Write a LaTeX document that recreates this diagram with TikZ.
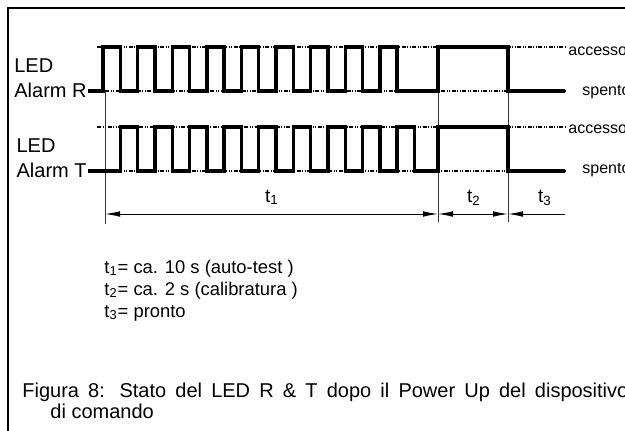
\documentclass[tikz,border=0pt]{standalone}
\usepackage{fontspec}
\setmainfont{Liberation Sans}
\usetikzlibrary{arrows.meta,positioning}

\begin{document}
\begin{tikzpicture}[x=0.5pt,y=-0.5pt,
  lbl/.style={inner sep=0pt,align=left,font=\fontsize{10}{12.5}\selectfont},
  lvl/.style={inner sep=0pt,anchor=base west,font=\fontsize{8}{9.5}\selectfont},
  txt/.style={inner sep=0pt,anchor=base west,font=\fontsize{9.2}{10.5}\selectfont},
  frame/.style={line width=1.25pt},
  sig/.style={line width=1.7pt,line join=miter},
  lvlline/.style={line width=0.55pt,dash pattern=on 2pt off 0.75pt on 0.5pt off 0.75pt on 0.5pt off 0.75pt},
  guide/.style={line width=0.5pt,black!80},
  dim/.style={line width=0.5pt},
  dimb/.style={dim,{Latex[length=7.5pt,width=2.8pt]}-{Latex[length=7.5pt,width=2.8pt]}},
  diml/.style={dim,{Latex[length=7.5pt,width=2.8pt]}-}]

\useasboundingbox (0,0) rectangle (625,430);
\clip (0,0) rectangle (625,430);
\fill[white] (0,0) rectangle (625,430);

% frame
\draw[frame] (8,440) -- (8,8) -- (640,8);

% state levels
\draw[lvlline] (97,47) -- (565,47);
\draw[lvlline] (105,91) -- (565,91);
\draw[lvlline] (97,127) -- (565,127);
\draw[lvlline] (97,171) -- (565,171);

% time marks
\coordinate (d0) at (105,214);
\coordinate (d1) at (438,214);
\coordinate (d2) at (508,214);
\coordinate (d3) at (565,214);
\draw[guide] (105,91) -- (105,224);
\draw[guide] (438,91) -- (438,222);
\draw[guide] (508,91) -- (508,222);

% LED R
\draw[sig] (88,91) foreach \k in {0,...,8} {-- ({103+34.6*\k},91) |- ++(17.3,-44) -- ++(0,44)}
  -- (438,91) |- (508,47) -- (508,91) -- (565,91);
% LED T
\draw[sig] (88,171) foreach \k in {0,...,8} {-- ({120.3+34.6*\k},171) |- ++(17.3,-44) -- ++(0,44)}
  -- (438,171) |- (508,127) -- (508,171) -- (565,171);

% labels
\node[lbl,anchor=south east] (ledR) at (87,98.5) {LED\\Alarm R};
\node[lbl,anchor=south east] (ledT) at (87,178.5) {LED\\Alarm T};
\node[lvl] (accR) at (568,55) {accesso};
\node[lvl] (spR) at (582,95) {spento};
\node[lvl] (accT) at (568,133) {accesso};
\node[lvl] (spT) at (582,173) {spento};

% durations
\draw[dimb] (d0) -- (d1);
\draw[dimb] (d1) -- (d2);
\draw[diml] (d2) -- (d3);
\node[txt,anchor=base,font=\fontsize{9.5}{11}\selectfont] (t1) at (272,202) {t\textsubscript{1}};
\node[txt,anchor=base,font=\fontsize{9.5}{11}\selectfont] (t2) at (474,202) {t\textsubscript{2}};
\node[txt,anchor=base,font=\fontsize{9.5}{11}\selectfont] (t3) at (545,202) {t\textsubscript{3}};

% legend
\node[txt] (leg1) at (104,273) {t\textsubscript{1}= ca. 10 s (auto-test )};
\node[txt] (leg2) at (104,295) {t\textsubscript{2}= ca. 2 s (calibratura )};
\node[txt] (leg3) at (104,317) {t\textsubscript{3}= pronto};

% caption
\node[txt,font=\fontsize{10}{11}\selectfont] (cap1) at (22,397) {\makebox[303pt][s]{Figura 8: Stato del LED R \& T dopo il Power Up del dispositivo}};
\node[txt,font=\fontsize{10}{11}\selectfont] (cap2) at (50,418) {di comando};
\end{tikzpicture}
\end{document}
